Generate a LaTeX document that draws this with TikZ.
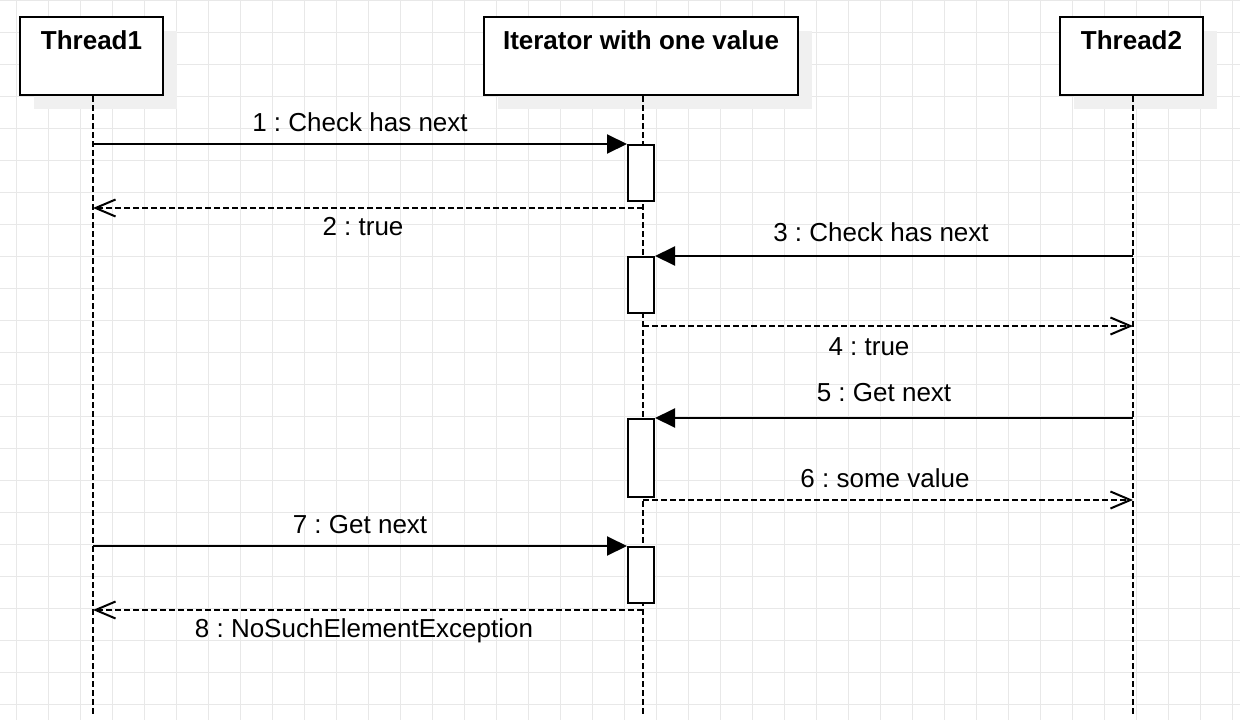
\documentclass[tikz,border=0pt]{standalone}
\usepackage{fontspec}
\setmainfont{Liberation Sans}
\frenchspacing
\usetikzlibrary{shadows,arrows.meta}

\definecolor{gridgray}{HTML}{E8E8E8}
\definecolor{shadowgray}{HTML}{F0F0F0}

\begin{document}
\begin{tikzpicture}[
    x=1pt, y=-1pt,
    line width=2pt,
    every node/.style={font=\fontsize{26}{30}\selectfont},
    gridline/.style={draw=gridgray, line width=1pt},
    head/.style={draw, fill=white, anchor=north, inner sep=0pt,
        minimum height=78pt, text height=19pt, text depth=32pt,
        font=\fontsize{26}{30}\selectfont\bfseries,
        general shadow={fill=shadowgray, shadow xshift=14pt, shadow yshift=-14pt}},
    lifeline/.style={dash pattern=on 6pt off 3pt},
    act/.style={draw, fill=white, anchor=north, inner sep=0pt, minimum width=26pt},
    call/.style={-{Triangle[length=20pt,width=19pt]}},
    reply/.style={dash pattern=on 6pt off 3pt, -{Straight Barb[length=20pt,width=17pt]}},
    lbl/.style={anchor=base, inner sep=0pt}]
    \useasboundingbox (0,0) rectangle (1240,720);
    \fill[white] (0,0) rectangle (1240,720);
    \foreach \gx in {16.5,48.5,...,1232.5}
        \draw[gridline] (\gx,0) -- (\gx,720);
    \foreach \gy in {0.5,32.5,...,704.5}
        \draw[gridline] (0,\gy) -- (1240,\gy);

    \node[head, minimum width=143pt] (t1) at (91.5,16) {Thread1};
    \node[head, minimum width=314pt] (it) at (641,16) {Iterator with one value};
    \node[head, minimum width=143pt] (t2) at (1131.5,16) {Thread2};

    \coordinate (t1end) at (93,714);
    \coordinate (itend) at (643,714);
    \coordinate (t2end) at (1133,714);
    \draw[lifeline] (t1.south -| t1end) -- (t1end);
    \draw[lifeline] (it.south -| itend) -- (itend);
    \draw[lifeline] (t2.south -| t2end) -- (t2end);

    \node[act, minimum height=56pt] (a1) at (641,144) {};
    \node[act, minimum height=56pt] (a2) at (641,256) {};
    \node[act, minimum height=78pt] (a3) at (641,418) {};
    \node[act, minimum height=56pt] (a4) at (641,546) {};

    \coordinate (r2) at (643,208);
    \coordinate (r4) at (643,326);
    \coordinate (r6) at (643,500);
    \coordinate (r8) at (643,610);

    \draw[call] (t1end |- a1.north) -- node[lbl, yshift=13pt] {1 : Check has next} (a1.north west);
    \draw[reply] (r2) -- node[lbl, xshift=-5pt, yshift=-27pt] {2 : true} (t1end |- r2);
    \draw[call] (t2end |- a2.north) -- node[lbl, xshift=-13pt, yshift=15pt] {3 : Check has next} (a2.north east);
    \draw[reply] (r4) -- node[lbl, xshift=-19pt, yshift=-29pt] {4 : true} (t2end |- r4);
    \draw[call] (t2end |- a3.north) -- node[lbl, xshift=-10pt, yshift=17pt] {5 : Get next} (a3.north east);
    \draw[reply] (r6) -- node[lbl, xshift=-3pt, yshift=13pt] {6 : some value} (t2end |- r6);
    \draw[call] (t1end |- a4.north) -- node[lbl, yshift=13pt] {7 : Get next} (a4.north west);
    \draw[reply] (r8) -- node[lbl, xshift=-4pt, yshift=-27pt] {8 : NoSuchElementException} (t1end |- r8);
\end{tikzpicture}
\end{document}
